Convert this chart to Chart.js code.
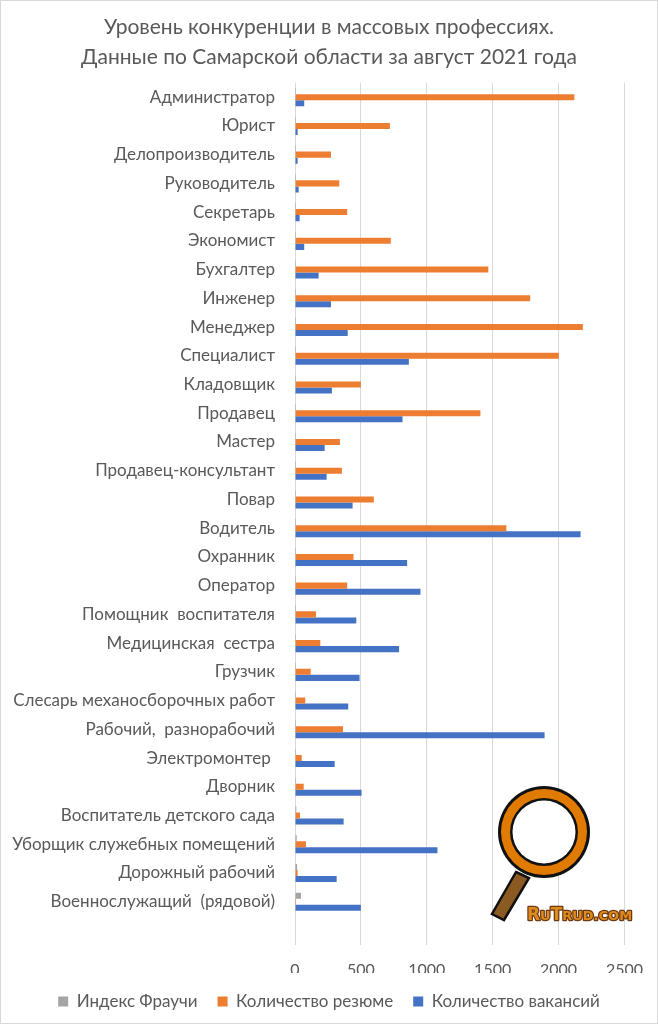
<!DOCTYPE html>
<html>
<head>
<meta charset="utf-8">
<script src="https://cdn.jsdelivr.net/npm/chart.js@4.4.0/dist/chart.umd.min.js"></script>
<style>
  html, body { margin: 0; padding: 0; background: #fff; }
  #wrap { width: 658px; height: 1024px; position: relative; }
</style>
</head>
<body>
<div id="wrap"><canvas id="chartCompetition"></canvas></div>
<script>
const categories = [
  "Администратор", "Юрист", "Делопроизводитель", "Руководитель", "Секретарь",
  "Экономист", "Бухгалтер", "Инженер", "Менеджер", "Специалист",
  "Кладовщик", "Продавец", "Мастер", "Продавец-консультант", "Повар",
  "Водитель", "Охранник", "Оператор", "Помощник  воспитателя", "Медицинская  сестра",
  "Грузчик", "Слесарь механосборочных работ", "Рабочий,  разнорабочий", "Электромонтер ", "Дворник",
  "Воспитатель детского сада", "Уборщик служебных помещений", "Дорожный рабочий", "Военнослужащий  (рядовой)"
];
const fraucheIndex = [
  0.03, 0.03, 0.07, 0.08, 0.09,
  0.1, 0.12, 0.15, 0.18, 0.4,
  0.55, 0.6, 0.65, 0.7, 0.75,
  1.3, 1.9, 2.4, 2.9, 4,
  4, 5, 5, 6, 8,
  10, 13, 16, 45
];
const resumes = [
  2120, 720, 273, 336, 396,
  727, 1467, 1785, 2184, 2002,
  500, 1407, 341, 356, 598,
  1604, 444, 396, 159, 192,
  119, 78, 364, 51, 66,
  38, 83, 20, 8
];
const vacancies = [
  70, 20, 20, 28, 35,
  70, 179, 273, 400, 864,
  280, 816, 225, 240, 437,
  2167, 851, 952, 465, 790,
  490, 404, 1894, 301, 505,
  369, 1081, 316, 500
];
const xTicks = [0, 500, 1000, 1500, 2000, 2500];

const textColor = "#595959";
const fontFamily = "Lato, 'Open Sans', sans-serif";

// white background, thin frame and the RuTrud logo
const decorPlugin = {
  id: "decor",
  beforeDraw(chart) {
    const ctx = chart.ctx;
    ctx.save();
    ctx.fillStyle = "#fff";
    ctx.fillRect(0, 0, chart.width, chart.height);
    ctx.restore();
  },
  afterDraw(chart) {
    const ctx = chart.ctx;
    ctx.save();
    ctx.strokeStyle = "#d9d9d9";
    ctx.lineWidth = 1;
    ctx.strokeRect(0.5, 0.5, chart.width - 1, chart.height - 1);

    // handle
    ctx.beginPath();
    ctx.moveTo(516, 872);
    ctx.lineTo(529, 878);
    ctx.lineTo(504, 920);
    ctx.lineTo(492, 914);
    ctx.closePath();
    ctx.fillStyle = "#8b5a22";
    ctx.fill();
    ctx.lineWidth = 2.5;
    ctx.strokeStyle = "#111";
    ctx.stroke();

    // ring
    const cx = 544, cy = 832;
    ctx.beginPath();
    ctx.arc(cx, cy, 46, 0, Math.PI * 2);
    ctx.fillStyle = "#111";
    ctx.fill();
    ctx.beginPath();
    ctx.arc(cx, cy, 43, 0, Math.PI * 2);
    ctx.fillStyle = "#e07b00";
    ctx.fill();
    ctx.beginPath();
    ctx.arc(cx, cy, 34, 0, Math.PI * 2);
    ctx.fillStyle = "#111";
    ctx.fill();
    ctx.beginPath();
    ctx.arc(cx, cy, 31.5, 0, Math.PI * 2);
    ctx.fillStyle = "#fff";
    ctx.fill();

    // logo text
    const parts = [["R", 17], ["U", 13], ["T", 17], ["RUD.COM", 13]];
    let x = 527;
    ctx.textBaseline = "alphabetic";
    ctx.lineJoin = "round";
    parts.forEach(([t, s]) => {
      ctx.font = "bold " + s + "px 'DejaVu Sans', sans-serif";
      ctx.lineWidth = 2.5;
      ctx.strokeStyle = "#6b3a10";
      ctx.strokeText(t, x, 920);
      ctx.fillStyle = "#e08a1e";
      ctx.fillText(t, x, 920);
      x += ctx.measureText(t).width;
    });
    ctx.restore();
  },
};

const chartCompetition = document
  .getElementById("chartCompetition")
  .getContext("2d");
new Chart(chartCompetition, {
  type: "bar",
  data: {
    labels: categories,
    datasets: [
      {
        label: "Индекс Фраучи",
        data: fraucheIndex,
        backgroundColor: "#a5a5a5",
        minBarLength: 1,
      },
      {
        label: "Количество резюме",
        data: resumes,
        backgroundColor: "#ed7d31",
      },
      {
        label: "Количество вакансий",
        data: vacancies,
        backgroundColor: "#4472c4",
      },
    ],
  },
  plugins: [decorPlugin],
  options: {
    indexAxis: "y",
    responsive: true,
    maintainAspectRatio: false,
    animation: false,
    datasets: {
      bar: { categoryPercentage: 0.63, barPercentage: 1.0 },
    },
    layout: { padding: { left: 0, right: 0, top: 0, bottom: 4 } },
    scales: {
      x: {
        min: 0,
        max: 2500,
        afterBuildTicks: (scale) => {
          scale.ticks = xTicks.map((v) => ({ value: v }));
        },
        afterFit: (scale) => {
          scale.height = scale.height - 21;
        },
        ticks: {
          color: textColor,
          font: { family: fontFamily, size: 16 },
          padding: 15,
          callback: (v) => String(v),
        },
        grid: { color: "#d9d9d9", drawTicks: false },
        border: { display: false },
      },
      y: {
        labels: [...categories, ""],
        afterFit: (scale) => {
          scale.width = 295;
        },
        ticks: {
          color: textColor,
          font: { family: fontFamily, size: 17 },
          padding: 12,
          autoSkip: false,
        },
        grid: { display: false },
        border: { display: false },
      },
      // empty right margin so the legend and title stay centred on the page
      yRight: {
        type: "category",
        position: "right",
        labels: [""],
        afterFit: (scale) => {
          scale.width = 33;
        },
        ticks: { display: false },
        grid: { display: false },
        border: { display: false },
      },
    },
    plugins: {
      legend: {
        position: "bottom",
        labels: {
          color: textColor,
          font: { family: fontFamily, size: 17 },
          boxWidth: 10,
          boxHeight: 10,
          padding: 20,
        },
      },
      tooltip: { enabled: false },
      title: {
        display: true,
        text: [
          "Уровень конкуренции в массовых профессиях.",
          "Данные по Самарской области за август 2021 года",
        ],
        color: textColor,
        font: { family: fontFamily, size: 21, weight: "normal", lineHeight: 1.4 },
        padding: { top: 13, bottom: 11 },
      },
    },
  },
});
</script>
</body>
</html>
